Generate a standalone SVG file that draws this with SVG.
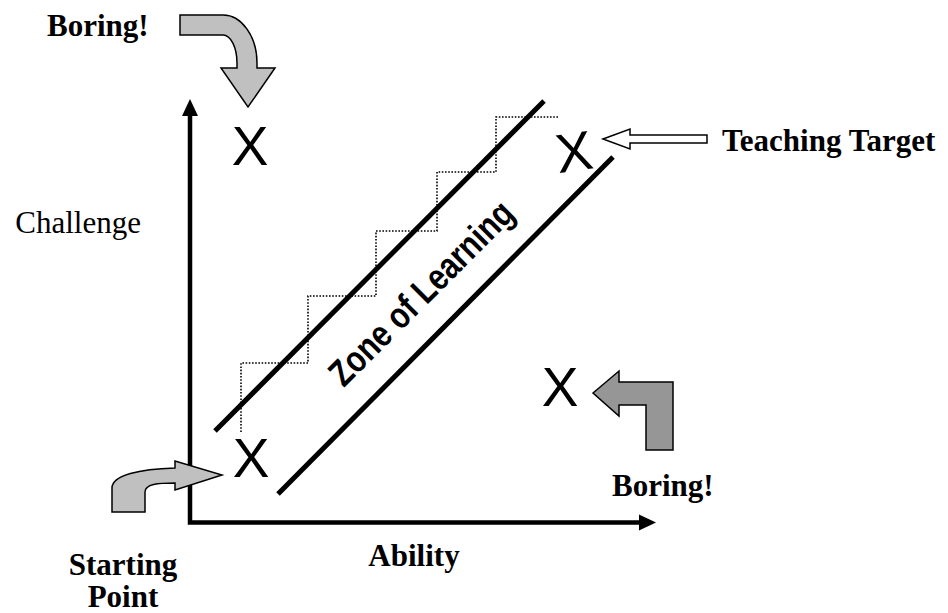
<svg xmlns="http://www.w3.org/2000/svg" width="948" height="613" viewBox="0 0 948 613">
<style>
.lbl{font-family:"Liberation Serif","Times New Roman",serif;font-size:31px;font-weight:bold;fill:#000}
.reg{font-family:"Liberation Serif","Times New Roman",serif;font-size:31px;fill:#000}
.x{font-family:"Liberation Sans",Arial,sans-serif;font-size:55px;fill:#000;text-anchor:middle}
.zone{font-family:"Liberation Sans",Arial,sans-serif;font-size:37px;font-weight:bold;fill:#000;text-anchor:middle}
.thick{fill:none;stroke:#000;stroke-width:5}
.arr{stroke:#000;stroke-width:1.5;stroke-linejoin:miter}
</style>
<rect width="948" height="613" fill="#fff"/>
<g id="axes">
<path d="M190,115 L190,522.5 L640,522.5" fill="none" stroke="#000" stroke-width="4.5" stroke-linejoin="miter"/>
<polygon points="190,99 198,116 182,116" fill="#000"/>
<polygon points="656,522.5 639,514.5 639,530.5" fill="#000"/>
</g>
<g id="zone">
<line class="thick" x1="215" y1="431" x2="544" y2="101"/>
<line class="thick" x1="278" y1="494" x2="613" y2="157"/>
<polyline points="241,432 241,363 308,363 308,296 376,296 376,231 437,231 437,172 496,172 496,117 559,117" fill="none" stroke="#000" stroke-width="1.6" stroke-dasharray="1.6 1.6"/>
<text class="zone" x="430" y="302" transform="rotate(-45 430 302)" textLength="244" lengthAdjust="spacingAndGlyphs">Zone of Learning</text>
</g>
<g id="marks">
<text class="x" x="250" y="165">X</text>
<text class="x" x="251" y="477">X</text>
<text class="x" x="560" y="406">X</text>
<text class="x" x="574" y="171" transform="rotate(-8 574 151)">X</text>
</g>
<g id="arrows">
<path class="arr" fill="#c0c0c0" d="M180,15 L223,15 A34,48 0 0 1 257,63 L257,68 L275,68 L248,107 L221,68 L237,68 L237,63 A14,28 0 0 0 223,35 L180,35 Z"/>
<path class="arr" fill="#c0c0c0" d="M112,512 L112,488 C112,475 140,469 175,468 L175,461 L222,475 L175,490 L175,483 C158,483 145,484 145,492 L145,512 Z"/>
<path class="arr" fill="#969696" d="M593,393 L619,371 L619,382 L673,382 L673,450 L646,450 L646,405 L619,405 L619,416 Z"/>
<path class="arr" fill="#fff" d="M603,139 L630,129 L630,135 L707,135 L707,143 L630,143 L630,149 Z"/>
</g>
<g id="labels">
<text class="lbl" x="47" y="36">Boring!</text>
<text class="lbl" x="722" y="151">Teaching Target</text>
<text class="reg" x="141" y="233" text-anchor="end">Challenge</text>
<text class="lbl" x="612" y="496">Boring!</text>
<text class="lbl" x="414" y="566" text-anchor="middle">Ability</text>
<text class="lbl" x="123" y="575" text-anchor="middle">Starting</text>
<text class="lbl" x="123" y="607" text-anchor="middle">Point</text>
</g>
</svg>
